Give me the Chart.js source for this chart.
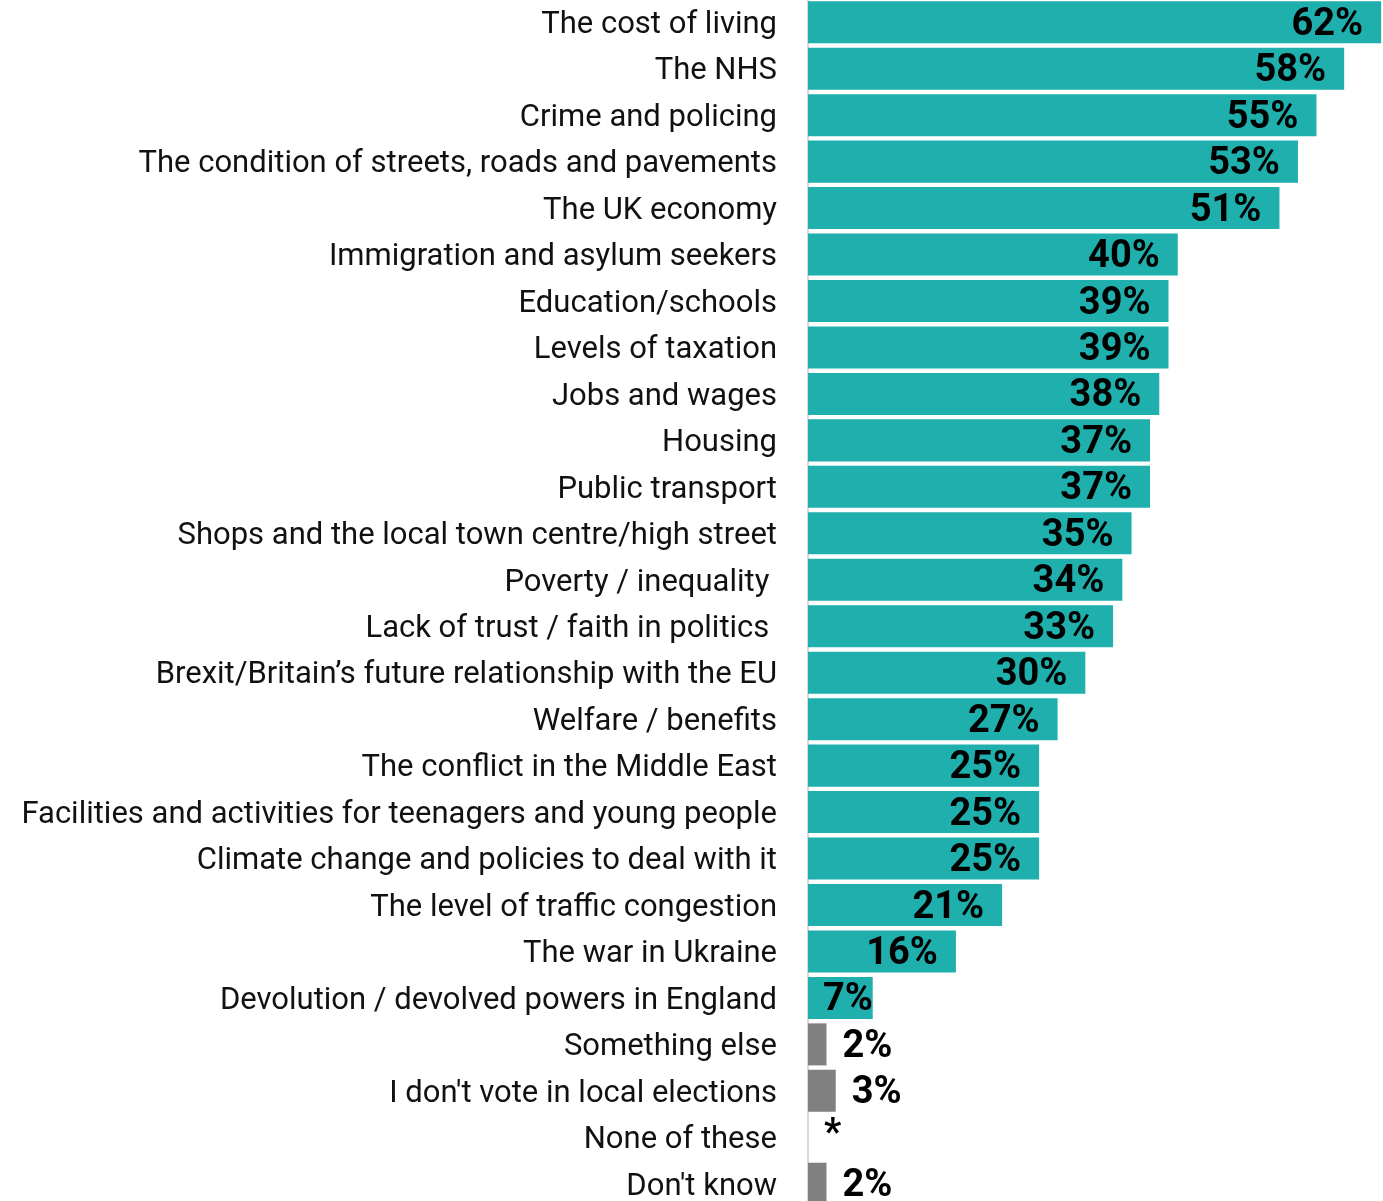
<!DOCTYPE html>
<html>
<head>
<meta charset="utf-8">
<script src="https://cdn.jsdelivr.net/npm/chart.js@4.4.1/dist/chart.umd.min.js"></script>
<style>
    html, body { margin: 0; padding: 0; background: #fff; overflow: hidden; }
    #wrap { width: 1383px; height: 1208px; margin-top: -1px; }
</style>
</head>
<body>
<div id="wrap"><canvas id="issuesChart"></canvas></div>
<script>
// Categories, top to bottom
const categories = [
    'The cost of living',
    'The NHS',
    'Crime and policing',
    'The condition of streets, roads and pavements',
    'The UK economy',
    'Immigration and asylum seekers',
    'Education/schools',
    'Levels of taxation',
    'Jobs and wages',
    'Housing',
    'Public transport',
    'Shops and the local town centre/high street',
    'Poverty / inequality ',
    'Lack of trust / faith in politics ',
    'Brexit/Britain\u2019s future relationship with the EU',
    'Welfare / benefits',
    'The conflict in the Middle East',
    'Facilities and activities for teenagers and young people',
    'Climate change and policies to deal with it',
    'The level of traffic congestion',
    'The war in Ukraine',
    'Devolution / devolved powers in England',
    'Something else',
    'I don\'t vote in local elections',
    'None of these',
    'Don\'t know'
];

// Percentages (0 = less than 0.5%, shown as *)
const values = [62, 58, 55, 53, 51, 40, 39, 39, 38, 37, 37, 35, 34, 33, 30, 27, 25, 25, 25, 21, 16, 7, 2, 3, 0, 2];

// Which bars are "other" answers (grey)
const isOther = [false, false, false, false, false, false, false, false, false, false, false, false, false,
    false, false, false, false, false, false, false, false, false, true, true, true, true];

const TEAL = '#1fafad';
const GREY = '#808080';

// Draws the percentage labels on/next to each bar
const valueLabels = {
    id: 'valueLabels',
    afterDatasetsDraw(chart) {
        const ctx = chart.ctx;
        const meta = chart.getDatasetMeta(0);
        const left = chart.chartArea.left;
        ctx.save();
        ctx.font = 'bold 38px Roboto';
        ctx.fillStyle = '#000';
        ctx.textBaseline = 'middle';
        meta.data.forEach((bar, i) => {
            const text = values[i] === 0 ? '*' : values[i] + '%';
            const y = bar.y + 3;
            if (isOther[i]) {
                ctx.textAlign = 'left';
                ctx.fillText(text, bar.x + 16, values[i] === 0 ? y - 5 : y);
            } else {
                const w = ctx.measureText(text).width;
                let x = bar.x - 18;
                if (x - w < left + 15) x = left + 15 + w;
                ctx.textAlign = 'right';
                ctx.fillText(text, x, y);
            }
        });
        ctx.restore();
    }
};

const ctx = document.getElementById('issuesChart').getContext('2d');
const issuesChart = new Chart(ctx, {
    type: 'bar',
    data: {
        labels: categories,
        datasets: [{
            data: values,
            backgroundColor: isOther.map(o => o ? GREY : TEAL),
            borderWidth: 0,
            barPercentage: 0.905,
            categoryPercentage: 1
        }]
    },
    options: {
        indexAxis: 'y',
        responsive: true,
        maintainAspectRatio: false,
        animation: false,
        layout: {
            padding: 0
        },
        scales: {
            x: {
                display: false,
                min: 0,
                max: 62.2
            },
            y: {
                afterFit: function(scale) {
                    scale.width = 808;
                    scale.paddingTop = 0;
                    scale.paddingBottom = 0;
                },
                grid: { display: false, drawTicks: false },
                border: { display: true, color: '#d9d9d9', width: 2 },
                ticks: {
                    padding: 31,
                    labelOffset: 3,
                    color: '#111',
                    autoSkip: false,
                    font: { family: 'Roboto', size: 31 }
                }
            }
        },
        plugins: {
            legend: { display: false },
            tooltip: { enabled: false }
        }
    },
    plugins: [valueLabels]
});
</script>
</body>
</html>
